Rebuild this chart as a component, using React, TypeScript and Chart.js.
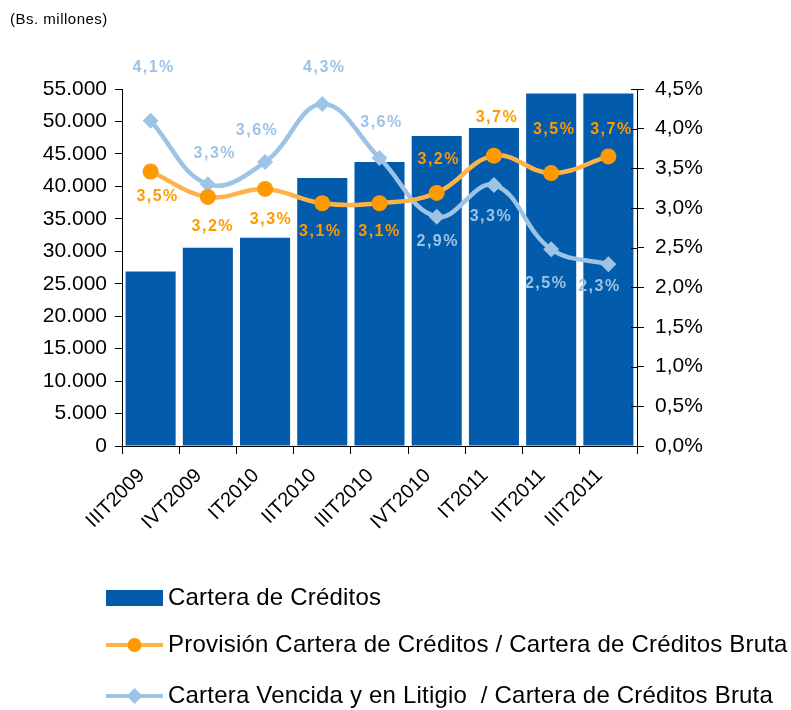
import React, { useEffect, useRef } from 'react';
import { Chart, registerables } from 'chart.js';

Chart.register(...registerables);

const categories = ['IIIT2009', 'IVT2009', 'IT2010', 'IIT2010', 'IIIT2010', 'IVT2010', 'IT2011', 'IIT2011', 'IIIT2011'];
const carteraCreditos = [26900, 30550, 32100, 41300, 43750, 47750, 49000, 54300, 54300];
const provisionRatio = [3.46, 3.14, 3.24, 3.06, 3.06, 3.19, 3.66, 3.44, 3.65];
const vencidaRatio = [4.1, 3.3, 3.58, 4.31, 3.63, 2.89, 3.29, 2.48, 2.29];
const provisionLabels = ['3,5%', '3,2%', '3,3%', '3,1%', '3,1%', '3,2%', '3,7%', '3,5%', '3,7%'];
const vencidaLabels = ['4,1%', '3,3%', '3,6%', '4,3%', '3,6%', '2,9%', '3,3%', '2,5%', '2,3%'];

const seriesNames = [
  'Cartera de Créditos',
  'Provisión Cartera de Créditos / Cartera de Créditos Bruta',
  'Cartera Vencida y en Litigio  / Cartera de Créditos Bruta',
];
const unitTitle = '(Bs. millones)';

// label placement (offset from point, px)
const provisionLabelOffsets = [[7, 25], [5, 30], [6, 31], [-2, 28], [0, 28], [2, -33], [3, -38], [3, -43], [3, -27]];
const vencidaLabelOffsets = [[3, -53], [7, -31], [-8, -31], [2, -36], [2, -35], [1, 25], [-3, 32], [-5, 34], [-9, 22]];

const FONT = '"Liberation Sans", Arial, Helvetica, sans-serif';
const BAR_COLOR = '#035CAB';
const ORANGE_LINE = '#FDB34A';
const ORANGE_POINT = '#FF9900';
const BLUE_LINE = '#9DC3E6';
const BLUE_POINT = '#9DC3E6';

const customPlugin = {
  id: 'customDecor',
  afterDatasetsDraw(chart: any) {
    const ctx = chart.ctx as CanvasRenderingContext2D;
    ctx.save();
    ctx.font = `bold 16px ${FONT}`;
    (ctx as any).letterSpacing = '1.5px';
    ctx.textAlign = 'center';
    ctx.textBaseline = 'middle';
    const groups: [number, string[], number[][], string][] = [
      [1, provisionLabels, provisionLabelOffsets, ORANGE_POINT],
      [2, vencidaLabels, vencidaLabelOffsets, BLUE_LINE],
    ];
    groups.forEach(([idx, labels, offs, color]) => {
      const meta = chart.getDatasetMeta(idx);
      ctx.fillStyle = color;
      meta.data.forEach((pt: any, i: number) => {
        ctx.fillText(labels[i], pt.x + offs[i][0], pt.y + offs[i][1]);
      });
    });
    ctx.restore();
  },
  afterDraw(chart: any) {
    const ctx = chart.ctx as CanvasRenderingContext2D;
    ctx.save();
    // inward ticks on the right axis
    const y1 = chart.scales.y1;
    ctx.strokeStyle = '#000';
    ctx.lineWidth = 1;
    y1.ticks.forEach((t: any) => {
      const py = Math.round(y1.getPixelForValue(t.value)) + 0.5;
      ctx.beginPath();
      ctx.moveTo(y1.left - 6, py);
      ctx.lineTo(y1.left, py);
      ctx.stroke();
    });
    // title
    ctx.fillStyle = '#000';
    ctx.font = `15px ${FONT}`;
    (ctx as any).letterSpacing = '0.5px';
    ctx.textAlign = 'left';
    ctx.textBaseline = 'middle';
    ctx.fillText(unitTitle, 10, 20);
    // legend
    const sx = 106, sw = 57, tx = 168;
    const rows = [598, 645, 696];
    ctx.font = `24px ${FONT}`;
    (ctx as any).letterSpacing = '0.2px';
    ctx.fillStyle = BAR_COLOR;
    ctx.fillRect(sx, rows[0] - 8, sw, 16);
    ctx.fillStyle = '#000';
    ctx.fillText(seriesNames[0], tx, rows[0]);

    ctx.strokeStyle = ORANGE_LINE;
    ctx.lineWidth = 4;
    ctx.beginPath();
    ctx.moveTo(sx, rows[1]);
    ctx.lineTo(sx + sw, rows[1]);
    ctx.stroke();
    ctx.fillStyle = ORANGE_POINT;
    ctx.beginPath();
    ctx.arc(sx + sw / 2, rows[1], 7, 0, Math.PI * 2);
    ctx.fill();
    ctx.fillStyle = '#000';
    ctx.fillText(seriesNames[1], tx, rows[1]);

    ctx.strokeStyle = BLUE_LINE;
    ctx.beginPath();
    ctx.moveTo(sx, rows[2]);
    ctx.lineTo(sx + sw, rows[2]);
    ctx.stroke();
    ctx.fillStyle = BLUE_POINT;
    const cx = sx + sw / 2, cy = rows[2], r = 8;
    ctx.beginPath();
    ctx.moveTo(cx, cy - r);
    ctx.lineTo(cx + r, cy);
    ctx.lineTo(cx, cy + r);
    ctx.lineTo(cx - r, cy);
    ctx.closePath();
    ctx.fill();
    ctx.fillStyle = '#000';
    ctx.fillText(seriesNames[2], tx, rows[2]);
    ctx.restore();
  },
};

export default function App() {
  const canvasRef = useRef<HTMLCanvasElement | null>(null);

  useEffect(() => {
    if (!canvasRef.current) return;
    const chart = new Chart(canvasRef.current, {
      type: 'bar',
      data: {
        labels: categories,
        datasets: [
          {
            type: 'bar',
            label: seriesNames[0],
            data: carteraCreditos,
            backgroundColor: BAR_COLOR,
            yAxisID: 'y',
            barPercentage: 0.875,
            categoryPercentage: 1,
            order: 3,
          },
          {
            type: 'line',
            label: seriesNames[1],
            data: provisionRatio,
            borderColor: ORANGE_LINE,
            borderWidth: 4.5,
            backgroundColor: ORANGE_POINT,
            pointBackgroundColor: ORANGE_POINT,
            pointBorderColor: ORANGE_POINT,
            pointBorderWidth: 0,
            pointStyle: 'circle',
            pointRadius: 8,
            tension: 0.4,
            yAxisID: 'y1',
            order: 1,
          } as any,
          {
            type: 'line',
            label: seriesNames[2],
            data: vencidaRatio,
            borderColor: BLUE_LINE,
            borderWidth: 4.5,
            backgroundColor: BLUE_POINT,
            pointBackgroundColor: BLUE_POINT,
            pointBorderColor: BLUE_POINT,
            pointBorderWidth: 0,
            pointStyle: 'rectRot',
            pointRadius: 8,
            tension: 0.4,
            yAxisID: 'y1',
            order: 2,
          } as any,
        ],
      },
      options: {
        responsive: false,
        animation: false,
        layout: { padding: { top: 89, left: 0, right: 0, bottom: 0 } },
        plugins: {
          legend: { display: false },
          tooltip: { enabled: false },
          title: { display: false },
        },
        scales: {
          x: {
            grid: { drawOnChartArea: false, tickLength: 8, color: '#000', offset: true },
            border: { color: '#000' },
            ticks: {
              color: '#000',
              font: { family: FONT, size: 20 },
              minRotation: 45,
              maxRotation: 45,
              autoSkip: false,
              padding: 10,
              labelOffset: -9,
            },
            afterFit: (s: any) => { s.height = 264; },
          },
          y: {
            position: 'left',
            min: 0,
            max: 55000,
            grid: { drawOnChartArea: false, tickLength: 7, color: '#000' },
            border: { color: '#000' },
            ticks: {
              stepSize: 5000,
              color: '#000',
              font: { family: FONT, size: 21 },
              padding: 8,
              callback: (v: any) => String(v).replace(/\B(?=(\d{3})+(?!\d))/g, '.'),
            },
            afterFit: (s: any) => { s.width = 122; },
          },
          y1: {
            position: 'right',
            min: 0,
            max: 4.5,
            grid: { drawOnChartArea: false, tickLength: 7, color: '#000' },
            border: { color: '#000' },
            ticks: {
              stepSize: 0.5,
              color: '#000',
              font: { family: FONT, size: 21 },
              padding: 11,
              callback: (v: any) => Number(v).toFixed(1).replace('.', ',') + '%',
            },
            afterFit: (s: any) => { s.width = 154; },
          },
        },
      },
      plugins: [customPlugin],
    });
    return () => chart.destroy();
  }, []);

  return (
    <div style={{ position: 'fixed', left: 0, top: 0, width: 791, height: 710, background: '#fff' }}>
      <canvas ref={canvasRef} width={791} height={710} style={{ width: 791, height: 710 }} />
    </div>
  );
}
